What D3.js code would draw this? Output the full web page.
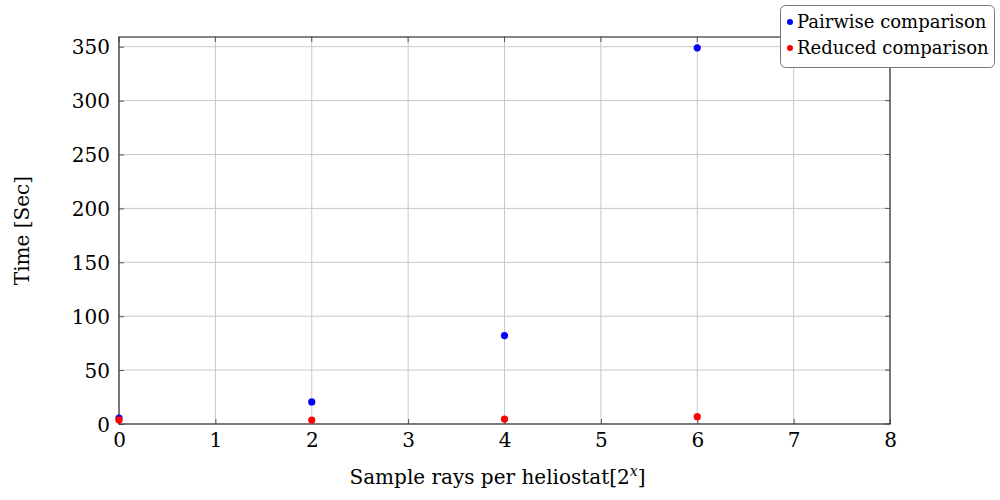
<!DOCTYPE html>
<html>
<head>
<meta charset="utf-8">
<script src="https://cdn.jsdelivr.net/npm/d3@7"></script>
<style>
  body { margin: 0; background: #fff; }
  text { font-family: "DejaVu Serif", serif; fill: #000; }
</style>
</head>
<body>
<div id="chart"></div>
<script>
// data
const xValues = [0, 2, 4, 6];
const pairwise = [5.5, 20.5, 82, 349];
const reduced = [3.8, 3.7, 4.6, 6.8];
const xTicks = [0, 1, 2, 3, 4, 5, 6, 7, 8];
const yTicks = [0, 50, 100, 150, 200, 250, 300, 350];
const seriesNames = ["Pairwise comparison", "Reduced comparison"];
const seriesColors = ["#0000ff", "#ff0000"];

const width = 1000, height = 500;
const mLeft = 119, mRight = 890, mTop = 37, mBottom = 424;
const serif = '"DejaVu Serif", serif';

const svg = d3.select("#chart").append("svg")
  .attr("width", width)
  .attr("height", height);

const xScale = d3.scaleLinear().domain([0, 8]).range([mLeft, mRight]);
const yScale = d3.scaleLinear().domain([0, 359]).range([mBottom, mTop]);

// grid
const grid = svg.append("g").attr("class", "grid");
grid.selectAll(".vg").data(xTicks).enter().append("line")
  .attr("x1", d => xScale(d)).attr("x2", d => xScale(d))
  .attr("y1", mTop).attr("y2", mBottom)
  .attr("stroke", "#c8c8c8").attr("stroke-width", 1);
grid.selectAll(".hg").data(yTicks).enter().append("line")
  .attr("x1", mLeft).attr("x2", mRight)
  .attr("y1", d => yScale(d)).attr("y2", d => yScale(d))
  .attr("stroke", "#c8c8c8").attr("stroke-width", 1);

// axes with inward ticks
var xAxis = svg.append("g")
  .attr("transform", `translate(0,${mBottom})`)
  .call(d3.axisBottom(xScale).tickValues(xTicks).tickSize(-5).tickPadding(8).tickFormat(d3.format("d")));
var yAxis = svg.append("g")
  .attr("transform", `translate(${mLeft},0)`)
  .call(d3.axisLeft(yScale).tickValues(yTicks).tickSize(-5).tickPadding(9).tickFormat(d3.format("d")));
[xAxis, yAxis].forEach(a => {
  a.attr("font-family", null);
  a.select(".domain").remove();
  a.selectAll(".tick line").attr("stroke", "#555");
  a.selectAll("text").style("font-family", serif).style("font-size", "20px").attr("fill", "#000");
});
xAxis.selectAll("text").attr("dy", "0.75em");
yAxis.selectAll("text").attr("dy", "0.35em");
// top/right ticks
svg.append("g").selectAll("line").data(xTicks).enter().append("line")
  .attr("x1", d => xScale(d)).attr("x2", d => xScale(d))
  .attr("y1", mTop).attr("y2", mTop + 5).attr("stroke", "#555");
svg.append("g").selectAll("line").data(yTicks).enter().append("line")
  .attr("x1", mRight).attr("x2", mRight - 5)
  .attr("y1", d => yScale(d)).attr("y2", d => yScale(d)).attr("stroke", "#555");

// frame
svg.append("rect")
  .attr("x", mLeft).attr("y", mTop)
  .attr("width", mRight - mLeft).attr("height", mBottom - mTop)
  .attr("fill", "none").attr("stroke", "#333").attr("stroke-width", 1.2);

// points
[pairwise, reduced].forEach((vals, s) => {
  svg.append("g").selectAll("circle").data(vals).enter().append("circle")
    .attr("cx", (d, i) => xScale(xValues[i]))
    .attr("cy", d => yScale(d))
    .attr("r", 3.6)
    .attr("fill", seriesColors[s]);
});

// axis labels
svg.append("text")
  .attr("x", (mLeft + mRight) / 2 - 7).attr("y", 484)
  .attr("text-anchor", "middle")
  .style("font-size", "20px")
  .html('Sample rays per heliostat[2<tspan dy="-8" font-size="14" font-style="italic">x</tspan><tspan dy="8">]</tspan>');

svg.append("text")
  .attr("transform", `translate(29,${(mTop + mBottom) / 2}) rotate(-90)`)
  .attr("text-anchor", "middle")
  .style("font-size", "20px")
  .text("Time [Sec]");

// legend
const legend = svg.append("g");
legend.append("rect")
  .attr("x", 780.5).attr("y", 5.5)
  .attr("width", 214).attr("height", 62)
  .attr("rx", 5).attr("ry", 5)
  .attr("fill", "#fff").attr("stroke", "#777").attr("stroke-width", 1);
seriesNames.forEach((name, i) => {
  const cy = 22 + i * 26;
  legend.append("circle").attr("cx", 790).attr("cy", cy).attr("r", 3).attr("fill", seriesColors[i]);
  legend.append("text").attr("x", 797).attr("y", cy + 6)
    .style("font-size", "18px").text(name);
});
</script>
</body>
</html>
